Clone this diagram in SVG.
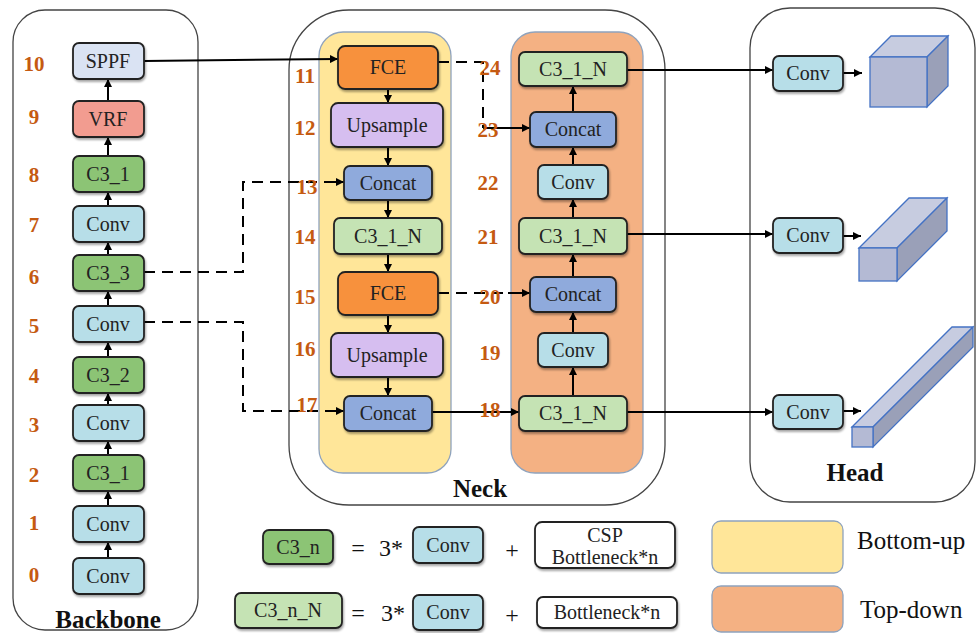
<svg xmlns="http://www.w3.org/2000/svg" width="977" height="633" viewBox="0 0 977 633">
<defs>
<marker id="ah" viewBox="0 0 10 10" refX="10" refY="5" markerWidth="8" markerHeight="8" markerUnits="userSpaceOnUse" orient="auto"><path d="M0,0 L10,5 L0,10 z" fill="#000"/></marker>
<filter id="sh" x="-10%" y="-10%" width="130%" height="140%"><feDropShadow dx="1" dy="2" stdDeviation="1.2" flood-color="#000" flood-opacity="0.35"/></filter>
</defs>
<style>
text{font-family:'Liberation Serif','DejaVu Serif','Times New Roman',serif}
.cont{fill:#fff;stroke:#444;stroke-width:1.3}
.bg{stroke:#8fa3bd;stroke-width:1.3}
.n{stroke:#222;stroke-width:1.8;filter:url(#sh)}
.t{font-size:20px;fill:#222;text-anchor:middle}
.num{font-size:21px;font-weight:bold;fill:#C55A11;text-anchor:middle}
.lbl{font-size:25px;font-weight:bold;fill:#111;text-anchor:middle}
.lg{font-size:25px;fill:#111}
.eq{font-size:24px;fill:#111;text-anchor:middle}
.conv{fill:#B7DEE8}
.c3{fill:#8CC474}
.c3n{fill:#C5E3B4}
.cat{fill:#8FAADC}
.up{fill:#D6BEF0}
.fce{fill:#F7913C}
.sppf{fill:#DAE3F3}
.vrf{fill:#F29C90}
.ln{fill:none;stroke:#000;stroke-width:2}
.dl{fill:none;stroke:#000;stroke-width:2;stroke-dasharray:11,7}
.cube{stroke:#4472C4;stroke-width:1.3}
</style>

<!-- containers -->
<g id="backbone">
<rect class="cont" x="13" y="10" width="185" height="620" rx="32"/>
<text class="lbl" x="108" y="628">Backbone</text>
</g>
<g id="neck">
<rect class="cont" x="289" y="10" width="376" height="495" rx="60"/>
<rect class="bg" x="319" y="32" width="132" height="441" rx="24" fill="#FFE699"/>
<rect class="bg" x="511" y="32" width="132" height="441" rx="24" fill="#F4B183"/>
<text class="lbl" x="480" y="497">Neck</text>
</g>
<g id="head">
<rect class="cont" x="750" y="8" width="225" height="494" rx="40"/>
<text class="lbl" x="855" y="481">Head</text>
</g>

<!-- connectors -->
<g id="connectors">
<line class="ln" x1="108" y1="558" x2="108" y2="542" marker-end="url(#ah)"/>
<line class="ln" x1="108" y1="506" x2="108" y2="491" marker-end="url(#ah)"/>
<line class="ln" x1="108" y1="455" x2="108" y2="441" marker-end="url(#ah)"/>
<line class="ln" x1="108" y1="405" x2="108" y2="393" marker-end="url(#ah)"/>
<line class="ln" x1="108" y1="357" x2="108" y2="342" marker-end="url(#ah)"/>
<line class="ln" x1="108" y1="306" x2="108" y2="291" marker-end="url(#ah)"/>
<line class="ln" x1="108" y1="255" x2="108" y2="242" marker-end="url(#ah)"/>
<line class="ln" x1="108" y1="206" x2="108" y2="192" marker-end="url(#ah)"/>
<line class="ln" x1="108" y1="156" x2="108" y2="137" marker-end="url(#ah)"/>
<line class="ln" x1="108" y1="101" x2="108" y2="79" marker-end="url(#ah)"/>
<line class="ln" x1="144" y1="61" x2="338" y2="59" marker-end="url(#ah)"/>
<path class="dl" d="M144,272 H243 V182 H330"/>
<line class="ln" x1="328" y1="182" x2="344" y2="182" marker-end="url(#ah)"/>
<path class="dl" d="M144,322 H243 V411 H330"/>
<line class="ln" x1="328" y1="411" x2="344" y2="411" marker-end="url(#ah)"/>
<line class="ln" x1="388" y1="89" x2="388" y2="103" marker-end="url(#ah)"/>
<line class="ln" x1="388" y1="147" x2="388" y2="166" marker-end="url(#ah)"/>
<line class="ln" x1="388" y1="200" x2="388" y2="218" marker-end="url(#ah)"/>
<line class="ln" x1="388" y1="254" x2="388" y2="272" marker-end="url(#ah)"/>
<line class="ln" x1="388" y1="315" x2="388" y2="333" marker-end="url(#ah)"/>
<line class="ln" x1="388" y1="377" x2="388" y2="396" marker-end="url(#ah)"/>
<path class="dl" d="M438,62 H483 V128"/>
<line class="ln" x1="483" y1="128" x2="530" y2="128" marker-end="url(#ah)"/>
<path class="dl" d="M438,293 H510"/>
<line class="ln" x1="508" y1="293" x2="530" y2="293" marker-end="url(#ah)"/>
<line class="ln" x1="432" y1="412" x2="519" y2="412" marker-end="url(#ah)"/>
<line class="ln" x1="573" y1="396" x2="573" y2="367" marker-end="url(#ah)"/>
<line class="ln" x1="573" y1="333" x2="573" y2="312" marker-end="url(#ah)"/>
<line class="ln" x1="573" y1="277" x2="573" y2="254" marker-end="url(#ah)"/>
<line class="ln" x1="573" y1="218" x2="573" y2="199" marker-end="url(#ah)"/>
<line class="ln" x1="573" y1="165" x2="573" y2="147" marker-end="url(#ah)"/>
<line class="ln" x1="573" y1="112" x2="573" y2="86" marker-end="url(#ah)"/>
<line class="ln" x1="627" y1="70" x2="773" y2="70" marker-end="url(#ah)"/>
<line class="ln" x1="627" y1="234" x2="773" y2="234" marker-end="url(#ah)"/>
<line class="ln" x1="627" y1="412" x2="773" y2="412" marker-end="url(#ah)"/>
<line class="ln" x1="843" y1="73" x2="862" y2="73" marker-end="url(#ah)"/>
<line class="ln" x1="843" y1="236" x2="861" y2="236" marker-end="url(#ah)"/>
<line class="ln" x1="843" y1="411" x2="861" y2="411" marker-end="url(#ah)"/>
</g>

<!-- backbone nodes -->
<g id="n10"><rect class="n sppf" x="73" y="43" width="71" height="36" rx="6"/><text class="t" x="108" y="68">SPPF</text><text class="num" x="34" y="71">10</text></g>
<g id="n9"><rect class="n vrf" x="73" y="101" width="71" height="36" rx="6"/><text class="t" x="108" y="126">VRF</text><text class="num" x="34" y="124">9</text></g>
<g id="n8"><rect class="n c3" x="73" y="156" width="71" height="36" rx="6"/><text class="t" x="108" y="181">C3_1</text><text class="num" x="34" y="182">8</text></g>
<g id="n7"><rect class="n conv" x="73" y="206" width="71" height="36" rx="6"/><text class="t" x="108" y="231">Conv</text><text class="num" x="34" y="232">7</text></g>
<g id="n6"><rect class="n c3" x="73" y="255" width="71" height="36" rx="6"/><text class="t" x="108" y="280">C3_3</text><text class="num" x="34" y="284">6</text></g>
<g id="n5"><rect class="n conv" x="73" y="306" width="71" height="36" rx="6"/><text class="t" x="108" y="331">Conv</text><text class="num" x="34" y="333">5</text></g>
<g id="n4"><rect class="n c3" x="73" y="357" width="71" height="36" rx="6"/><text class="t" x="108" y="382">C3_2</text><text class="num" x="34" y="383">4</text></g>
<g id="n3"><rect class="n conv" x="73" y="405" width="71" height="36" rx="6"/><text class="t" x="108" y="430">Conv</text><text class="num" x="34" y="432">3</text></g>
<g id="n2"><rect class="n c3" x="73" y="455" width="71" height="36" rx="6"/><text class="t" x="108" y="480">C3_1</text><text class="num" x="34" y="482">2</text></g>
<g id="n1"><rect class="n conv" x="73" y="506" width="71" height="36" rx="6"/><text class="t" x="108" y="531">Conv</text><text class="num" x="34" y="530">1</text></g>
<g id="n0"><rect class="n conv" x="73" y="558" width="71" height="36" rx="6"/><text class="t" x="108" y="583">Conv</text><text class="num" x="34" y="582">0</text></g>

<!-- neck left column -->
<g id="n11"><rect class="n fce" x="338" y="46" width="100" height="43" rx="7"/><text class="t" x="388" y="74">FCE</text><text class="num" x="305" y="83">11</text></g>
<g id="n12"><rect class="n up" x="331" y="103" width="112" height="44" rx="7"/><text class="t" x="387" y="132">Upsample</text><text class="num" x="305" y="135">12</text></g>
<g id="n13"><rect class="n cat" x="344" y="166" width="88" height="34" rx="6"/><text class="t" x="388" y="190">Concat</text><text class="num" x="307" y="194">13</text></g>
<g id="n14"><rect class="n c3n" x="334" y="218" width="108" height="36" rx="6"/><text class="t" x="388" y="243">C3_1_N</text><text class="num" x="305" y="244">14</text></g>
<g id="n15"><rect class="n fce" x="338" y="272" width="100" height="43" rx="7"/><text class="t" x="388" y="300">FCE</text><text class="num" x="305" y="304">15</text></g>
<g id="n16"><rect class="n up" x="331" y="333" width="112" height="44" rx="7"/><text class="t" x="387" y="362">Upsample</text><text class="num" x="305" y="356">16</text></g>
<g id="n17"><rect class="n cat" x="344" y="396" width="88" height="35" rx="6"/><text class="t" x="388" y="420">Concat</text><text class="num" x="307" y="412">17</text></g>

<!-- neck right column -->
<g id="n18"><rect class="n c3n" x="519" y="396" width="108" height="35" rx="6"/><text class="t" x="573" y="420">C3_1_N</text><text class="num" x="490" y="417">18</text></g>
<g id="n19"><rect class="n conv" x="538" y="333" width="70" height="34" rx="6"/><text class="t" x="573" y="357">Conv</text><text class="num" x="490" y="360">19</text></g>
<g id="n20"><rect class="n cat" x="530" y="277" width="86" height="35" rx="6"/><text class="t" x="573" y="301">Concat</text><text class="num" x="490" y="304">20</text></g>
<g id="n21"><rect class="n c3n" x="519" y="218" width="108" height="36" rx="6"/><text class="t" x="573" y="243">C3_1_N</text><text class="num" x="488" y="244">21</text></g>
<g id="n22"><rect class="n conv" x="538" y="165" width="70" height="34" rx="6"/><text class="t" x="573" y="189">Conv</text><text class="num" x="488" y="190">22</text></g>
<g id="n23"><rect class="n cat" x="530" y="112" width="86" height="35" rx="6"/><text class="t" x="573" y="136">Concat</text><text class="num" x="488" y="137">23</text></g>
<g id="n24"><rect class="n c3n" x="519" y="52" width="108" height="34" rx="6"/><text class="t" x="573" y="76">C3_1_N</text><text class="num" x="490" y="75">24</text></g>

<!-- head -->
<g id="h1"><rect class="n conv" x="773" y="56" width="70" height="35" rx="6"/><text class="t" x="808" y="80">Conv</text></g>
<g id="h2"><rect class="n conv" x="773" y="218" width="70" height="35" rx="6"/><text class="t" x="808" y="242">Conv</text></g>
<g id="h3"><rect class="n conv" x="773" y="395" width="70" height="34" rx="6"/><text class="t" x="808" y="419">Conv</text></g>
<g id="cube1">
<polygon class="cube" fill="#C7CCE0" points="870,57 891,36 948,36 927,57"/>
<polygon class="cube" fill="#9AA0B8" points="927,57 948,36 948,86 927,107"/>
<rect class="cube" fill="#B4BAD4" x="870" y="57" width="57" height="50"/>
</g>
<g id="cube2">
<polygon class="cube" fill="#C7CCE0" points="859,248 909,198 947,198 897,248"/>
<polygon class="cube" fill="#9AA0B8" points="897,248 947,198 947,231 897,281"/>
<rect class="cube" fill="#B4BAD4" x="859" y="248" width="38" height="33"/>
</g>
<g id="cube3">
<polygon class="cube" fill="#C7CCE0" points="852,427 952,327 973,327 873,427"/>
<polygon class="cube" fill="#9AA0B8" points="873,427 973,327 973,347 873,447"/>
<rect class="cube" fill="#B4BAD4" x="852" y="427" width="21" height="20"/>
</g>

<!-- legend -->
<g id="legend1">
<rect class="n c3" x="263" y="530" width="70" height="34" rx="6"/><text class="t" x="298" y="554">C3_n</text>
<text class="eq" x="358" y="556">=</text><text class="eq" x="391" y="556">3*</text>
<rect class="n conv" x="413" y="527" width="70" height="36" rx="6"/><text class="t" x="448" y="552">Conv</text>
<text class="eq" x="512" y="558">+</text>
<rect class="n" fill="#fff" x="535" y="522" width="140" height="46" rx="7"/><text class="t" x="605" y="542">CSP</text><text class="t" x="605" y="564">Bottleneck*n</text>
</g>
<g id="legend2">
<rect class="n c3n" x="235" y="593" width="107" height="35" rx="6"/><text class="t" x="288" y="617">C3_n_N</text>
<text class="eq" x="358" y="621">=</text><text class="eq" x="393" y="621">3*</text>
<rect class="n conv" x="413" y="595" width="70" height="35" rx="6"/><text class="t" x="448" y="619">Conv</text>
<text class="eq" x="512" y="623">+</text>
<rect class="n" fill="#fff" x="537" y="597" width="140" height="31" rx="6"/><text class="t" x="607" y="619">Bottleneck*n</text>
</g>
<g id="legend3">
<rect class="bg" fill="#FFE699" x="712" y="521" width="131" height="52" rx="9"/>
<text class="lg" x="857" y="549">Bottom-up</text>
<rect class="bg" fill="#F4B183" x="712" y="586" width="131" height="46" rx="9"/>
<text class="lg" x="860" y="618">Top-down</text>
</g>
</svg>
